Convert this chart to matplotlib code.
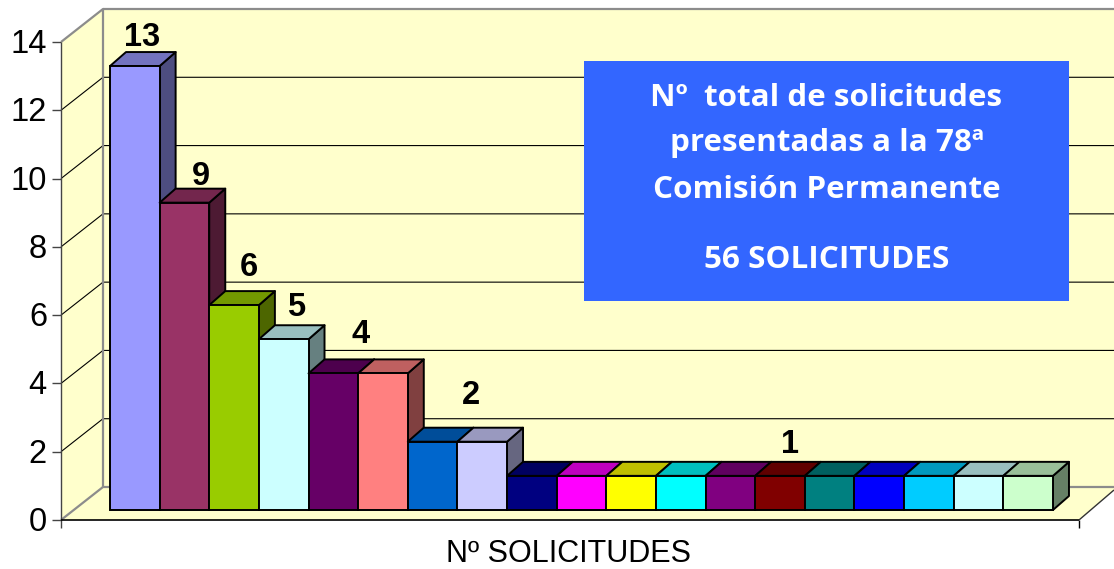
"""Pseudo-3D column chart of the requests submitted to the 78th Comision Permanente."""
import matplotlib
matplotlib.use("Agg")
import matplotlib.pyplot as plt          # noqa: E402
from matplotlib.colors import to_rgb     # noqa: E402
from matplotlib.patches import Polygon   # noqa: E402

values = [13, 9, 6, 5, 4, 4, 2, 2, 1, 1, 1, 1, 1, 1, 1, 1, 1, 1, 1]
colors = ["#9999FF", "#993366", "#99CC00", "#CCFFFF", "#660066", "#FF8080", "#0066CC",
          "#CCCCFF", "#000080", "#FF00FF", "#FFFF00", "#00FFFF", "#800080", "#800000",
          "#008080", "#0000FF", "#00CCFF", "#CCFFFF", "#CCFFCC"]
y_ticks = [0, 2, 4, 6, 8, 10, 12, 14]
labelled_bars = [0, 1, 2, 3, 4, 6, 13]
xlabel = "Nº SOLICITUDES"
box_lines = ["Nº  total de solicitudes", "presentadas a la 78ª", "Comisión Permanente",
             "56 SOLICITUDES"]

W, H = 1114, 569
BAR_PX, UNIT_PX = 49.63, 34.15
X0_PX, Y0_PX = 110, 510                  # corner of the first bar, in pixels


def xpx(px):
    return (px - X0_PX) / BAR_PX


def ypx(px):
    return (Y0_PX - px) / UNIT_PX


def dark(c, k):
    return tuple(k * v for v in to_rgb(c))


fig = plt.figure(figsize=(W / 100, H / 100), dpi=100)
ax = fig.add_axes([0, 0, 1, 1])
ax.set_xlim(xpx(0), xpx(W))
ax.set_ylim(ypx(H), ypx(0))
ax.axis("off")

# ---- walls and floor ----
FX0, FX1, FY0, FY14 = 61, 1079, 520, 42  # front plane of the frame
DX, DY = 42, -33                         # depth of the frame
WALL, GRAY = "#FFFFCC", "#8C8C8C"
frame = lambda v: FY0 + (FY14 - FY0) * v / 14


def poly(pts, **kw):
    ax.add_patch(Polygon([(xpx(x), ypx(y)) for x, y in pts], closed=True, **kw))


def line(xs, ys, **kw):
    ax.plot([xpx(x) for x in xs], [ypx(y) for y in ys], solid_capstyle="butt", **kw)


poly([(FX0 + DX, FY14 + DY), (W, FY14 + DY), (W, FY0 + DY), (FX0 + DX, FY0 + DY)], fc=WALL, ec="none")
poly([(FX0, FY14), (FX0 + DX, FY14 + DY), (FX0 + DX, FY0 + DY), (FX0, FY0)], fc=WALL, ec="none")
poly([(FX0, FY0), (FX0 + DX, FY0 + DY), (W, FY0 + DY), (W, FY0 - 30), (FX1, FY0)], fc=WALL, ec="none")

for v in y_ticks[1:-1]:
    y = frame(v)
    line([FX0, FX0 + DX, W], [y, y + DY, y + DY], color="black", lw=0.8)
for v in y_ticks:
    y = frame(v)
    line([FX0 - 9, FX0], [y, y], color="#444444", lw=1.0)
    ax.text(xpx(47), ypx(y + 2.5), str(v), ha="right", va="center", fontsize=23.5,
            family="Liberation Sans", color="black")

line([FX0, FX0 + DX, FX0 + DX], [FY14, FY14 + DY, FY0 + DY], color=GRAY, lw=1.6)
line([FX0, FX0 + DX, W], [FY0, FY0 + DY, FY0 + DY], color=GRAY, lw=1.6)
line([FX0 + DX, W], [FY14 + DY, FY14 + DY], color=GRAY, lw=1.6)
line([FX0, FX0], [FY14, FY0 + 8], color="#444444", lw=1.0)
line([FX0, FX1], [FY0, FY0], color="black", lw=1.2)
line([FX1, FX1], [FY0, FY0 + 8], color="black", lw=1.0)
line([FX1, W], [FY0, FY0 - 30], color="#333333", lw=1.0)

# ---- bars ----
bx, by = 16 / BAR_PX, 14 / UNIT_PX       # depth of a bar in data units
for i, (v, c) in enumerate(zip(values, colors)):
    ax.add_patch(Polygon([(i + 1, 0), (i + 1 + bx, by), (i + 1 + bx, v + by), (i + 1, v)],
                         fc=dark(c, 0.5), ec="black", lw=1.4, joinstyle="round", zorder=3 + i))
    ax.add_patch(Polygon([(i, v), (i + bx, v + by), (i + 1 + bx, v + by), (i + 1, v)],
                         fc=dark(c, 0.75), ec="black", lw=1.4, joinstyle="round", zorder=3 + i))
    ax.bar(i + 0.5, v, width=1, color=c, edgecolor="black", linewidth=1.4, zorder=3 + i)

# pixel nudges of the value labels from the centre of the bar top
nudges = [(7, 15), (16, 12), (15, 24), (12, 18), (27, 25), (38, 32), (10, 17)]
for i, (nx, ny) in zip(labelled_bars, nudges):
    ax.annotate(str(values[i]), (i + 0.5, values[i] + by), xytext=(nx * 0.72, ny * 0.72),
                textcoords="offset points", ha="center", va="center", fontsize=23.5,
                fontweight="bold", family="Liberation Sans", color="black", zorder=40)

ax.text(xpx(568.5), ypx(554), xlabel, ha="center", va="center", fontsize=22,
        family="Liberation Sans", color="black")

# ---- text box ----
poly([(584, 61), (1069, 61), (1069, 301), (584, 301)], fc="#3366FF", ec="none", zorder=30)
for s, y in zip(box_lines, [97.5, 143.5, 189.5, 259.5]):
    ax.text(xpx(826.5), ypx(y), s, ha="center", va="center", fontsize=22.6, fontweight="bold",
            family="Open Sans", color="white", zorder=31)

fig.savefig("out.png", dpi=100)
